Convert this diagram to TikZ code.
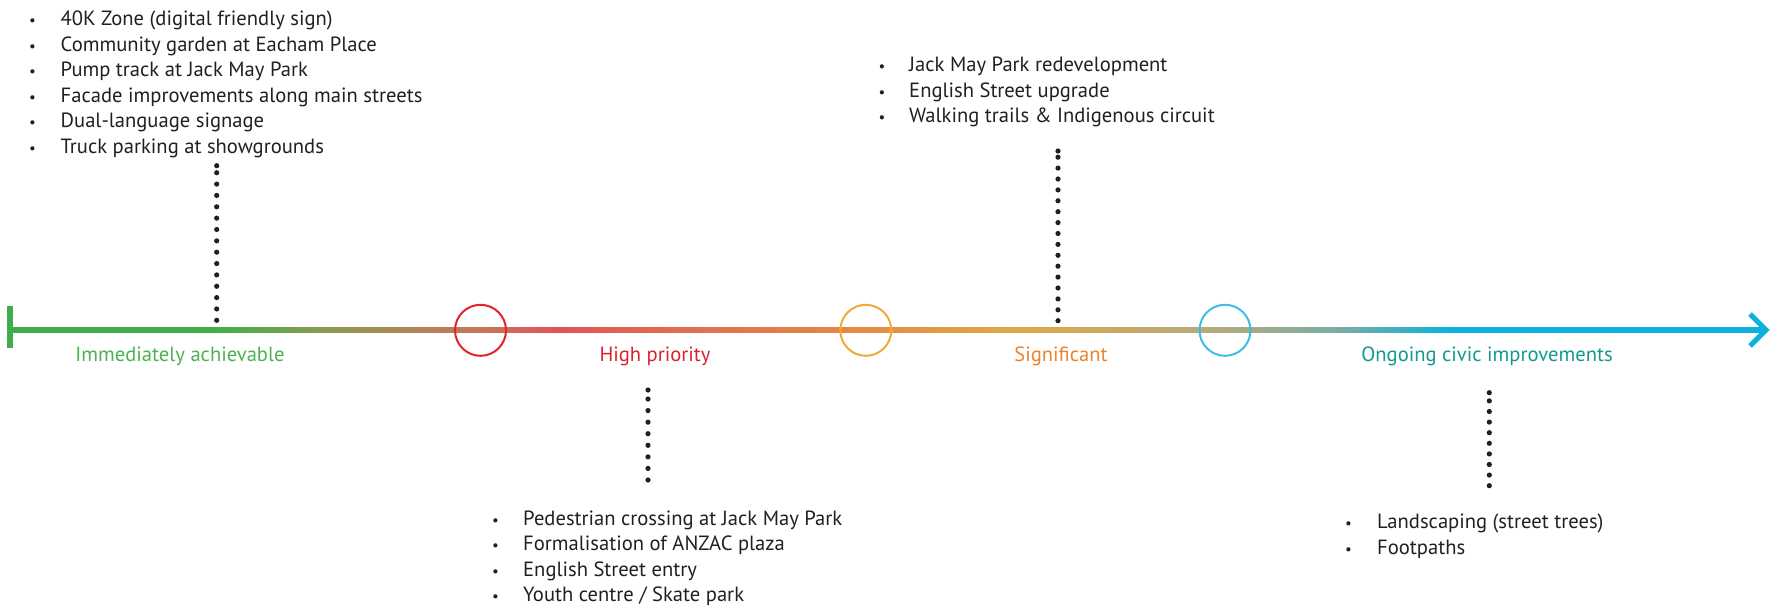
\documentclass[tikz,border=0pt]{standalone}
\usepackage{fontspec}
\setmainfont{PT Sans}
\definecolor{txt}{HTML}{231F20}
\definecolor{cG}{RGB}{61,174,73}
\definecolor{cGt}{RGB}{76,178,82}
\definecolor{cR}{HTML}{E2232A}
\definecolor{cRt}{HTML}{D8232F}
\definecolor{cO}{HTML}{F2A93B}
\definecolor{cOt}{HTML}{E9832F}
\definecolor{cB}{HTML}{3DBEE6}
\definecolor{cBt}{HTML}{119A8F}
\definecolor{cC}{RGB}{10,178,220}
\definecolor{s1}{RGB}{140,155,80}
\definecolor{s2}{RGB}{180,130,88}
\definecolor{s3}{RGB}{195,120,90}
\definecolor{s4}{RGB}{222,85,85}
\definecolor{s5}{RGB}{224,110,80}
\definecolor{s6}{RGB}{226,140,70}
\definecolor{s7}{RGB}{223,168,70}
\definecolor{s8}{RGB}{178,170,128}
\definecolor{s9}{RGB}{115,172,168}
\pgfdeclarehorizontalshading{tline}{100bp}{color(0bp)=(cG); color(25bp)=(cG); color(30.55bp)=(cG); color(34.10bp)=(s1); color(36.66bp)=(s2); color(38.37bp)=(s3); color(40.64bp)=(s4); color(44.06bp)=(s5); color(49.35bp)=(s6); color(53.44bp)=(s7); color(59.56bp)=(s8); color(63.11bp)=(s9); color(65.96bp)=(cC); color(75bp)=(cC); color(100bp)=(cC)}
\newcommand\bul{{\fontsize{15}{15}\selectfont\textbullet}}
\begin{document}
\begin{tikzpicture}[x=1pt,y=-1pt,
  blk/.style={anchor=base west,inner sep=0pt,text=txt,font=\fontsize{20.6}{25.5}\selectfont},
  lab/.style={anchor=base,inner sep=0pt,font=\fontsize{20.6}{25.5}\selectfont},
  circ/.style={circle,draw,line width=2pt,minimum size=51pt,inner sep=0pt},
  dotsty/.style={line width=5.2pt,line cap=round,dash pattern=on 0pt off #1,draw=txt},
  enddot/.style={fill=txt}]
\useasboundingbox (0,0) rectangle (1787,607);
% timeline
\coordinate (start) at (10,330);
\coordinate (end) at (1766,330);
\shade[shading=tline] (10,327.5) rectangle (1766,332.5);
\draw[cG,line width=5.3pt] (10,306) -- (10,348);
\coordinate (arrA) at (1750,314);
\coordinate (arrB) at (1750,346);
\draw[cC,line width=5pt,miter limit=10] (arrA) -- (end) -- (arrB);
% milestone circles
\node[circ,draw=cR] (c1) at (480.5,330.3) {};
\node[circ,draw=cO] (c2) at (865.8,330.3) {};
\node[circ,draw=cB] (c3) at (1225,330.3) {};
% phase labels
\node[lab,text=cGt] (l1) at (180,361.7) {Immediately achievable};
\node[lab,text=cRt] (l2) at (655,361.7) {High priority};
\node[lab,text=cOt] (l3) at (1061,361.7) {Significant};
\node[lab,text=cBt] (l4) at (1487,361.7) {Ongoing civic improvements};
% text blocks
\node[blk] (b1) at (29,26) {\begin{tabular}[t]{@{}p{31.5pt}@{}l@{}}
\bul & 40K Zone (digital friendly sign)\\
\bul & Community garden at Eacham Place\\
\bul & Pump track at Jack May Park\\
\bul & Facade improvements along main streets\\
\bul & Dual-language signage\\
\bul & Truck parking at showgrounds
\end{tabular}};
\node[blk] (b2) at (878.5,72) {\begin{tabular}[t]{@{}p{30.5pt}@{}l@{}}
\bul & Jack May Park redevelopment\\
\bul & English Street upgrade\\
\bul & Walking trails \& Indigenous circuit
\end{tabular}};
\node[blk] (b3) at (492,525) {\begin{tabular}[t]{@{}p{31pt}@{}l@{}}
\bul & Pedestrian crossing at Jack May Park\\
\bul & Formalisation of ANZAC plaza\\
\bul & English Street entry\\
\bul & Youth centre / Skate park
\end{tabular}};
\node[blk] (b4) at (1345,528.5) {\begin{tabular}[t]{@{}p{32pt}@{}l@{}}
\bul & Landscaping (street trees)\\
\bul & Footpaths
\end{tabular}};
% dotted connectors
\coordinate (t1) at (216.7,320.3); \coordinate (k1) at (216.7,165.7);
\coordinate (t2) at (1058,320.7);  \coordinate (k2) at (1058,151);
\coordinate (k3) at (648,480);     \coordinate (t3) at (648,390);
\coordinate (k4) at (1489.3,485.7);\coordinate (t4) at (1489.3,392.7);
\draw[dotsty=11.35pt] (t1) -- (k1); \fill[enddot] (k1) circle (2.6pt);
\draw[dotsty=10.9pt] (t2) -- (k2);  \fill[enddot] (k2) circle (2.6pt);
\draw[dotsty=11.57pt] (k3) -- (t3); \fill[enddot] (t3) circle (2.6pt);
\draw[dotsty=10.6pt] (k4) -- (t4);  \fill[enddot] (t4) circle (2.6pt);
\end{tikzpicture}
\end{document}
